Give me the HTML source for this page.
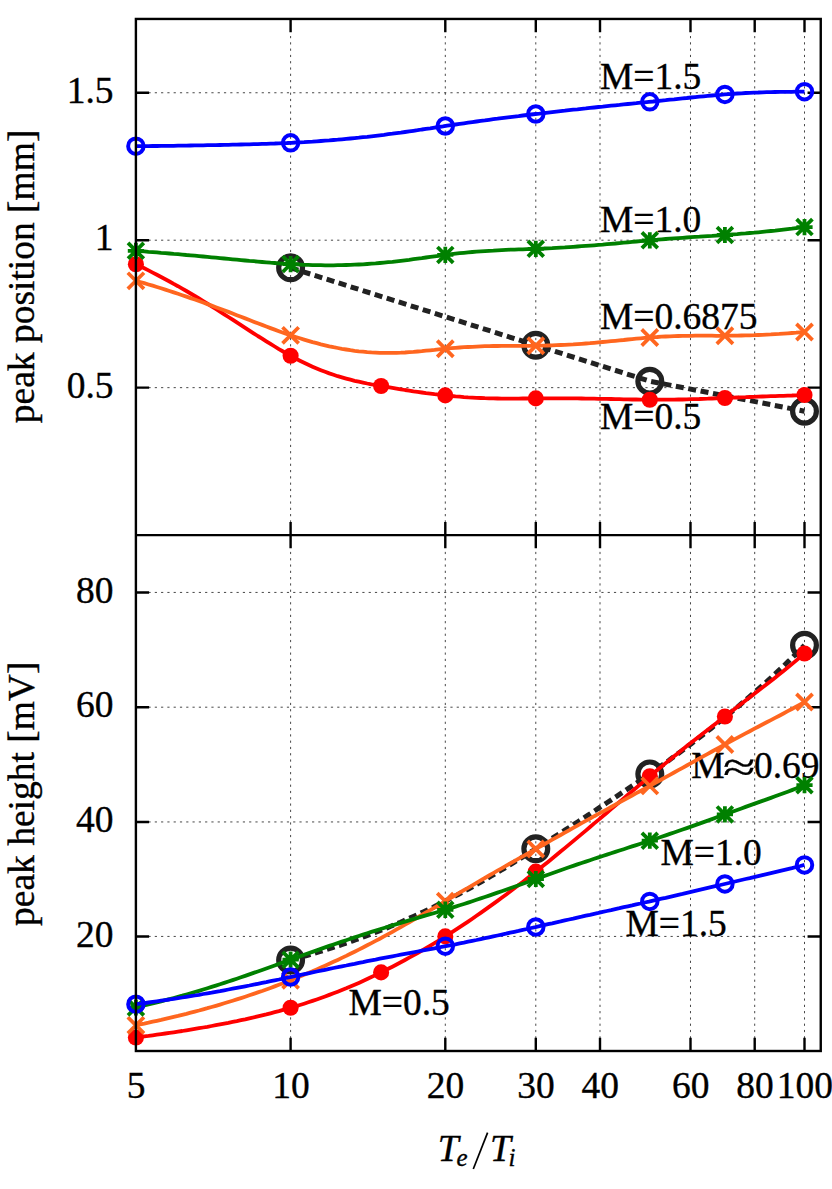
<!DOCTYPE html>
<html><head><meta charset="utf-8"><title>chart</title>
<style>
html,body{margin:0;padding:0;background:#fff;}
body{width:832px;height:1189px;overflow:hidden;}
svg{display:block;}
text{font-family:"Liberation Serif",serif;font-size:37.5px;fill:#000;stroke:#000;stroke-width:0.35px;}
</style></head><body>
<svg width="832" height="1189" viewBox="0 0 832 1189">
<rect width="832" height="1189" fill="#fff"/>

<path d="M290.60,1051.0V535.1M290.60,535.1V18.95 M445.30,1051.0V535.1M445.30,535.1V18.95 M535.79,1051.0V535.1M535.79,535.1V18.95 M600.00,1051.0V535.1M600.00,535.1V18.95 M690.49,1051.0V535.1M690.49,535.1V18.95 M754.70,1051.0V535.1M754.70,535.1V18.95 M804.50,1051.0V535.1M804.50,535.1V18.95 M135.9,92.75H820.75 M135.9,240.20H820.75 M135.9,387.65H820.75 M135.9,592.43H820.75 M135.9,707.20H820.75 M135.9,821.95H820.75 M135.9,936.43H820.75" stroke="#000" stroke-width="1.0" stroke-dasharray="2.2 4.09" fill="none" opacity="0.72"/>
<path d="M290.6,18.95v13.2M290.6,521.9v26.4M290.6,1051.0v-13.2 M445.3,18.95v13.2M445.3,521.9v26.4M445.3,1051.0v-13.2 M535.8,18.95v13.2M535.8,521.9v26.4M535.8,1051.0v-13.2 M600.0,18.95v13.2M600.0,521.9v26.4M600.0,1051.0v-13.2 M690.5,18.95v13.2M690.5,521.9v26.4M690.5,1051.0v-13.2 M754.7,18.95v13.2M754.7,521.9v26.4M754.7,1051.0v-13.2 M804.5,18.95v13.2M804.5,521.9v26.4M804.5,1051.0v-13.2 M135.9,92.75h13.2M820.75,92.75h-13.2 M135.9,240.20h13.2M820.75,240.20h-13.2 M135.9,387.65h13.2M820.75,387.65h-13.2 M135.9,592.43h13.2M820.75,592.43h-13.2 M135.9,707.20h13.2M820.75,707.20h-13.2 M135.9,821.95h13.2M820.75,821.95h-13.2 M135.9,936.43h13.2M820.75,936.43h-13.2" stroke="#000" stroke-width="2.4" fill="none"/>
<text transform="translate(600.0,88.8) scale(1,1.02)" text-anchor="start">M=1.5</text>
<text transform="translate(600.0,231.8) scale(1,1.02)" text-anchor="start">M=1.0</text>
<text transform="translate(600.0,328.8) scale(1,1.02)" text-anchor="start">M=0.6875</text>
<text transform="translate(600.0,428.8) scale(1,1.02)" text-anchor="start">M=0.5</text>
<text transform="translate(660.5,865.4) scale(1,1.02)" text-anchor="start">M=1.0</text>
<text transform="translate(625.5,936.3) scale(1,1.02)" text-anchor="start">M=1.5</text>
<text transform="translate(348.5,1015.3) scale(1,1.02)" text-anchor="start">M=0.5</text>
<text transform="translate(691.2,777.6) scale(1,1.02)" text-anchor="start">M</text>
<text transform="translate(722.9,781.3) scale(1.22,0.855)" style="font-size:48.5px">≈</text>
<text transform="translate(753.9,777.6) scale(1,1.02)" text-anchor="start">0.69</text>
<path d="M290.6,267.8 L535.8,345.3 L649.8,381.2 L804.5,411.2" stroke="#222222" stroke-width="5" stroke-dasharray="8 4.6" fill="none"/>
<circle cx="290.6" cy="267.8" r="11.9" fill="none" stroke="#222222" stroke-width="5.2"/>
<circle cx="535.8" cy="345.3" r="11.9" fill="none" stroke="#222222" stroke-width="5.2"/>
<circle cx="649.8" cy="381.2" r="11.9" fill="none" stroke="#222222" stroke-width="5.2"/>
<circle cx="804.5" cy="411.2" r="11.9" fill="none" stroke="#222222" stroke-width="5.2"/>
<path d="M135.9,264.2 L140.1,266.3 L144.3,268.3 L148.5,270.4 L152.7,272.6 L156.9,274.8 L161.1,277.0 L165.3,279.2 L169.5,281.5 L173.7,283.9 L178.0,286.2 L182.2,288.6 L186.4,291.0 L190.6,293.5 L194.8,296.0 L199.0,298.5 L203.2,301.1 L207.4,303.7 L211.6,306.3 L215.8,308.9 L220.0,311.6 L224.2,314.3 L228.4,317.0 L232.6,319.7 L236.8,322.4 L241.0,325.1 L245.2,327.8 L249.4,330.6 L253.6,333.3 L257.8,336.0 L262.1,338.6 L266.3,341.3 L270.5,343.9 L274.7,346.5 L278.9,349.1 L283.1,351.5 L287.3,353.9 L291.5,356.3 L295.7,358.5 L299.9,360.7 L304.1,362.8 L308.3,364.8 L312.5,366.7 L316.7,368.5 L320.9,370.2 L325.1,371.8 L329.3,373.4 L333.5,374.8 L337.7,376.2 L341.9,377.4 L346.2,378.6 L350.4,379.7 L354.6,380.8 L358.8,381.7 L363.0,382.6 L367.2,383.5 L371.4,384.3 L375.6,385.0 L379.8,385.8 L384.0,386.5 L388.2,387.2 L392.4,387.9 L396.6,388.6 L400.8,389.3 L405.0,390.0 L409.2,390.6 L413.4,391.3 L417.6,391.9 L421.8,392.5 L426.0,393.1 L430.3,393.6 L434.5,394.2 L438.7,394.7 L442.9,395.1 L447.1,395.6 L451.3,396.0 L455.5,396.4 L459.7,396.7 L463.9,397.1 L468.1,397.4 L472.3,397.6 L476.5,397.8 L480.7,398.0 L484.9,398.2 L489.1,398.3 L493.3,398.4 L497.5,398.5 L501.7,398.6 L505.9,398.6 L510.1,398.6 L514.4,398.6 L518.6,398.6 L522.8,398.5 L527.0,398.5 L531.2,398.4 L535.4,398.4 L539.6,398.4 L543.8,398.3 L548.0,398.3 L552.2,398.3 L556.4,398.3 L560.6,398.3 L564.8,398.3 L569.0,398.4 L573.2,398.4 L577.4,398.4 L581.6,398.5 L585.8,398.6 L590.0,398.6 L594.2,398.7 L598.5,398.8 L602.7,398.8 L606.9,398.9 L611.1,399.0 L615.3,399.1 L619.5,399.2 L623.7,399.3 L627.9,399.4 L632.1,399.5 L636.3,399.5 L640.5,399.6 L644.7,399.6 L648.9,399.7 L653.1,399.7 L657.3,399.7 L661.5,399.7 L665.7,399.7 L669.9,399.7 L674.1,399.6 L678.3,399.5 L682.6,399.5 L686.8,399.4 L691.0,399.2 L695.2,399.1 L699.4,399.0 L703.6,398.8 L707.8,398.7 L712.0,398.5 L716.2,398.4 L720.4,398.2 L724.6,398.0 L728.8,397.8 L733.0,397.7 L737.2,397.5 L741.4,397.3 L745.6,397.2 L749.8,397.0 L754.0,396.9 L758.2,396.7 L762.4,396.5 L766.7,396.4 L770.9,396.2 L775.1,396.1 L779.3,395.9 L783.5,395.8 L787.7,395.6 L791.9,395.5 L796.1,395.3 L800.3,395.2 L804.5,395.0" stroke="#ff0000" stroke-width="3.8" fill="none" stroke-linejoin="round"/>
<circle cx="135.9" cy="264.2" r="8.05" fill="#ff0000"/>
<circle cx="290.6" cy="355.8" r="8.05" fill="#ff0000"/>
<circle cx="381.1" cy="386.0" r="8.05" fill="#ff0000"/>
<circle cx="445.3" cy="395.4" r="8.05" fill="#ff0000"/>
<circle cx="535.8" cy="398.4" r="8.05" fill="#ff0000"/>
<circle cx="649.8" cy="399.7" r="8.05" fill="#ff0000"/>
<circle cx="724.9" cy="398.0" r="8.05" fill="#ff0000"/>
<circle cx="804.5" cy="395.0" r="8.05" fill="#ff0000"/>
<path d="M135.9,280.8 L140.1,282.0 L144.3,283.2 L148.5,284.5 L152.7,285.7 L156.9,287.0 L161.1,288.3 L165.3,289.6 L169.5,291.0 L173.7,292.4 L178.0,293.8 L182.2,295.2 L186.4,296.6 L190.6,298.1 L194.8,299.5 L199.0,301.0 L203.2,302.5 L207.4,304.1 L211.6,305.6 L215.8,307.2 L220.0,308.8 L224.2,310.3 L228.4,311.9 L232.6,313.6 L236.8,315.2 L241.0,316.8 L245.2,318.4 L249.4,320.0 L253.6,321.7 L257.8,323.3 L262.1,324.9 L266.3,326.5 L270.5,328.1 L274.7,329.6 L278.9,331.2 L283.1,332.7 L287.3,334.2 L291.5,335.6 L295.7,337.0 L299.9,338.3 L304.1,339.6 L308.3,340.9 L312.5,342.1 L316.7,343.2 L320.9,344.3 L325.1,345.3 L329.3,346.3 L333.5,347.2 L337.7,348.0 L341.9,348.8 L346.2,349.5 L350.4,350.2 L354.6,350.8 L358.8,351.3 L363.0,351.7 L367.2,352.1 L371.4,352.4 L375.6,352.6 L379.8,352.8 L384.0,352.9 L388.2,352.9 L392.4,352.9 L396.6,352.8 L400.8,352.7 L405.0,352.5 L409.2,352.2 L413.4,351.9 L417.6,351.5 L421.8,351.2 L426.0,350.7 L430.3,350.3 L434.5,349.9 L438.7,349.4 L442.9,349.0 L447.1,348.6 L451.3,348.2 L455.5,347.8 L459.7,347.5 L463.9,347.2 L468.1,347.0 L472.3,346.8 L476.5,346.6 L480.7,346.4 L484.9,346.2 L489.1,346.1 L493.3,346.0 L497.5,346.0 L501.7,345.9 L505.9,345.9 L510.1,345.8 L514.4,345.8 L518.6,345.8 L522.8,345.8 L527.0,345.8 L531.2,345.8 L535.4,345.8 L539.6,345.7 L543.8,345.6 L548.0,345.5 L552.2,345.4 L556.4,345.2 L560.6,345.0 L564.8,344.8 L569.0,344.6 L573.2,344.4 L577.4,344.1 L581.6,343.8 L585.8,343.5 L590.0,343.2 L594.2,342.8 L598.5,342.4 L602.7,342.0 L606.9,341.6 L611.1,341.2 L615.3,340.8 L619.5,340.4 L623.7,340.0 L627.9,339.5 L632.1,339.1 L636.3,338.7 L640.5,338.3 L644.7,337.9 L648.9,337.6 L653.1,337.2 L657.3,337.0 L661.5,336.7 L665.7,336.5 L669.9,336.3 L674.1,336.1 L678.3,336.0 L682.6,335.9 L686.8,335.8 L691.0,335.8 L695.2,335.7 L699.4,335.7 L703.6,335.7 L707.8,335.7 L712.0,335.7 L716.2,335.8 L720.4,335.8 L724.6,335.8 L728.8,335.7 L733.0,335.7 L737.2,335.6 L741.4,335.5 L745.6,335.4 L749.8,335.3 L754.0,335.2 L758.2,335.0 L762.4,334.8 L766.7,334.6 L770.9,334.4 L775.1,334.1 L779.3,333.9 L783.5,333.6 L787.7,333.3 L791.9,333.0 L796.1,332.7 L800.3,332.3 L804.5,332.0" stroke="#ff661f" stroke-width="3.8" fill="none" stroke-linejoin="round"/>
<path d="M127.8,272.7L144.0,288.9M127.8,288.9L144.0,272.7" stroke="#ff661f" stroke-width="3.7" fill="none"/>
<path d="M282.5,327.2L298.7,343.4M282.5,343.4L298.7,327.2" stroke="#ff661f" stroke-width="3.7" fill="none"/>
<path d="M437.2,340.6L453.4,356.9M437.2,356.9L453.4,340.6" stroke="#ff661f" stroke-width="3.7" fill="none"/>
<path d="M527.7,337.6L543.9,353.9M527.7,353.9L543.9,337.6" stroke="#ff661f" stroke-width="3.7" fill="none"/>
<path d="M641.7,329.4L657.9,345.6M641.7,345.6L657.9,329.4" stroke="#ff661f" stroke-width="3.7" fill="none"/>
<path d="M716.8,327.6L733.0,343.9M716.8,343.9L733.0,327.6" stroke="#ff661f" stroke-width="3.7" fill="none"/>
<path d="M796.4,323.9L812.6,340.1M796.4,340.1L812.6,323.9" stroke="#ff661f" stroke-width="3.7" fill="none"/>
<path d="M135.9,250.8 L140.1,251.1 L144.3,251.4 L148.5,251.8 L152.7,252.1 L156.9,252.4 L161.1,252.8 L165.3,253.1 L169.5,253.5 L173.7,253.9 L178.0,254.2 L182.2,254.6 L186.4,255.0 L190.6,255.3 L194.8,255.7 L199.0,256.1 L203.2,256.5 L207.4,256.9 L211.6,257.3 L215.8,257.7 L220.0,258.1 L224.2,258.5 L228.4,258.9 L232.6,259.3 L236.8,259.7 L241.0,260.1 L245.2,260.5 L249.4,260.9 L253.6,261.2 L257.8,261.6 L262.1,262.0 L266.3,262.3 L270.5,262.7 L274.7,263.0 L278.9,263.3 L283.1,263.6 L287.3,263.9 L291.5,264.2 L295.7,264.4 L299.9,264.6 L304.1,264.8 L308.3,264.9 L312.5,265.1 L316.7,265.2 L320.9,265.2 L325.1,265.3 L329.3,265.3 L333.5,265.3 L337.7,265.2 L341.9,265.2 L346.2,265.0 L350.4,264.9 L354.6,264.7 L358.8,264.5 L363.0,264.3 L367.2,264.0 L371.4,263.7 L375.6,263.4 L379.8,263.0 L384.0,262.6 L388.2,262.2 L392.4,261.8 L396.6,261.3 L400.8,260.8 L405.0,260.3 L409.2,259.8 L413.4,259.2 L417.6,258.6 L421.8,258.1 L426.0,257.5 L430.3,256.9 L434.5,256.3 L438.7,255.8 L442.9,255.2 L447.1,254.7 L451.3,254.2 L455.5,253.7 L459.7,253.2 L463.9,252.8 L468.1,252.4 L472.3,252.0 L476.5,251.7 L480.7,251.4 L484.9,251.1 L489.1,250.8 L493.3,250.6 L497.5,250.3 L501.7,250.1 L505.9,249.9 L510.1,249.7 L514.4,249.6 L518.6,249.4 L522.8,249.3 L527.0,249.1 L531.2,249.0 L535.4,248.8 L539.6,248.6 L543.8,248.5 L548.0,248.3 L552.2,248.1 L556.4,247.8 L560.6,247.6 L564.8,247.4 L569.0,247.1 L573.2,246.8 L577.4,246.5 L581.6,246.2 L585.8,245.9 L590.0,245.6 L594.2,245.3 L598.5,244.9 L602.7,244.6 L606.9,244.2 L611.1,243.8 L615.3,243.5 L619.5,243.1 L623.7,242.7 L627.9,242.3 L632.1,241.9 L636.3,241.5 L640.5,241.1 L644.7,240.8 L648.9,240.4 L653.1,240.0 L657.3,239.7 L661.5,239.3 L665.7,239.0 L669.9,238.7 L674.1,238.4 L678.3,238.1 L682.6,237.8 L686.8,237.5 L691.0,237.2 L695.2,236.9 L699.4,236.7 L703.6,236.4 L707.8,236.1 L712.0,235.9 L716.2,235.6 L720.4,235.3 L724.6,235.0 L728.8,234.7 L733.0,234.4 L737.2,234.1 L741.4,233.7 L745.6,233.4 L749.8,233.0 L754.0,232.7 L758.2,232.3 L762.4,231.9 L766.7,231.4 L770.9,231.0 L775.1,230.6 L779.3,230.1 L783.5,229.6 L787.7,229.1 L791.9,228.7 L796.1,228.1 L800.3,227.6 L804.5,227.1" stroke="#008000" stroke-width="3.8" fill="none" stroke-linejoin="round"/>
<path d="M128.0,242.9L143.8,258.7M128.0,258.7L143.8,242.9M127.8,250.8L144.0,250.8M135.9,242.7L135.9,258.9" stroke="#008000" stroke-width="3.8" fill="none"/>
<path d="M282.7,256.2L298.5,272.0M282.7,272.0L298.5,256.2M282.5,264.1L298.7,264.1M290.6,256.0L290.6,272.2" stroke="#008000" stroke-width="3.8" fill="none"/>
<path d="M437.4,247.0L453.2,262.8M437.4,262.8L453.2,247.0M437.2,254.9L453.4,254.9M445.3,246.8L445.3,263.0" stroke="#008000" stroke-width="3.8" fill="none"/>
<path d="M527.9,240.9L543.7,256.7M527.9,256.7L543.7,240.9M527.7,248.8L543.9,248.8M535.8,240.7L535.8,256.9" stroke="#008000" stroke-width="3.8" fill="none"/>
<path d="M641.9,232.4L657.7,248.2M641.9,248.2L657.7,232.4M641.7,240.3L657.9,240.3M649.8,232.2L649.8,248.4" stroke="#008000" stroke-width="3.8" fill="none"/>
<path d="M717.0,227.1L732.8,242.9M717.0,242.9L732.8,227.1M716.8,235.0L733.0,235.0M724.9,226.9L724.9,243.1" stroke="#008000" stroke-width="3.8" fill="none"/>
<path d="M796.6,219.2L812.4,235.0M796.6,235.0L812.4,219.2M796.4,227.1L812.6,227.1M804.5,219.0L804.5,235.2" stroke="#008000" stroke-width="3.8" fill="none"/>
<path d="M135.9,146.2 L140.1,146.2 L144.3,146.1 L148.5,146.1 L152.7,146.0 L156.9,146.0 L161.1,145.9 L165.3,145.9 L169.5,145.8 L173.7,145.8 L178.0,145.7 L182.2,145.6 L186.4,145.6 L190.6,145.5 L194.8,145.4 L199.0,145.4 L203.2,145.3 L207.4,145.2 L211.6,145.2 L215.8,145.1 L220.0,145.0 L224.2,144.9 L228.4,144.8 L232.6,144.7 L236.8,144.6 L241.0,144.5 L245.2,144.4 L249.4,144.3 L253.6,144.2 L257.8,144.1 L262.1,143.9 L266.3,143.8 L270.5,143.6 L274.7,143.5 L278.9,143.3 L283.1,143.1 L287.3,143.0 L291.5,142.8 L295.7,142.5 L299.9,142.3 L304.1,142.1 L308.3,141.8 L312.5,141.6 L316.7,141.3 L320.9,141.0 L325.1,140.7 L329.3,140.4 L333.5,140.0 L337.7,139.7 L341.9,139.3 L346.2,138.9 L350.4,138.5 L354.6,138.1 L358.8,137.7 L363.0,137.2 L367.2,136.8 L371.4,136.3 L375.6,135.8 L379.8,135.3 L384.0,134.8 L388.2,134.2 L392.4,133.7 L396.6,133.1 L400.8,132.6 L405.0,132.0 L409.2,131.4 L413.4,130.8 L417.6,130.2 L421.8,129.5 L426.0,128.9 L430.3,128.3 L434.5,127.6 L438.7,127.0 L442.9,126.4 L447.1,125.7 L451.3,125.1 L455.5,124.5 L459.7,123.9 L463.9,123.3 L468.1,122.7 L472.3,122.1 L476.5,121.5 L480.7,120.9 L484.9,120.4 L489.1,119.8 L493.3,119.2 L497.5,118.7 L501.7,118.1 L505.9,117.6 L510.1,117.1 L514.4,116.6 L518.6,116.1 L522.8,115.5 L527.0,115.0 L531.2,114.5 L535.4,114.0 L539.6,113.6 L543.8,113.1 L548.0,112.6 L552.2,112.1 L556.4,111.6 L560.6,111.1 L564.8,110.7 L569.0,110.2 L573.2,109.7 L577.4,109.3 L581.6,108.8 L585.8,108.4 L590.0,107.9 L594.2,107.5 L598.5,107.0 L602.7,106.6 L606.9,106.1 L611.1,105.7 L615.3,105.3 L619.5,104.9 L623.7,104.4 L627.9,104.0 L632.1,103.6 L636.3,103.2 L640.5,102.7 L644.7,102.3 L648.9,101.9 L653.1,101.5 L657.3,101.0 L661.5,100.6 L665.7,100.2 L669.9,99.7 L674.1,99.3 L678.3,98.8 L682.6,98.4 L686.8,98.0 L691.0,97.5 L695.2,97.1 L699.4,96.7 L703.6,96.3 L707.8,95.9 L712.0,95.5 L716.2,95.1 L720.4,94.8 L724.6,94.4 L728.8,94.1 L733.0,93.8 L737.2,93.5 L741.4,93.3 L745.6,93.0 L749.8,92.8 L754.0,92.6 L758.2,92.5 L762.4,92.3 L766.7,92.2 L770.9,92.1 L775.1,92.0 L779.3,91.9 L783.5,91.9 L787.7,91.8 L791.9,91.8 L796.1,91.7 L800.3,91.7 L804.5,91.7" stroke="#0000ff" stroke-width="3.8" fill="none" stroke-linejoin="round"/>
<circle cx="135.9" cy="146.2" r="7.75" fill="none" stroke="#0000ff" stroke-width="3.95"/>
<circle cx="290.6" cy="142.8" r="7.75" fill="none" stroke="#0000ff" stroke-width="3.95"/>
<circle cx="445.3" cy="126.0" r="7.75" fill="none" stroke="#0000ff" stroke-width="3.95"/>
<circle cx="535.8" cy="114.0" r="7.75" fill="none" stroke="#0000ff" stroke-width="3.95"/>
<circle cx="649.8" cy="101.8" r="7.75" fill="none" stroke="#0000ff" stroke-width="3.95"/>
<circle cx="724.9" cy="94.4" r="7.75" fill="none" stroke="#0000ff" stroke-width="3.95"/>
<circle cx="804.5" cy="91.7" r="7.75" fill="none" stroke="#0000ff" stroke-width="3.95"/>
<path d="M290.6,960.0 L293.8,959.1 L297.1,958.2 L300.3,957.3 L303.5,956.4 L306.8,955.5 L310.0,954.6 L313.2,953.6 L316.5,952.6 L319.7,951.7 L322.9,950.7 L326.2,949.7 L329.4,948.6 L332.6,947.6 L335.8,946.5 L339.1,945.5 L342.3,944.4 L345.5,943.3 L348.8,942.2 L352.0,941.1 L355.2,939.9 L358.5,938.8 L361.7,937.6 L364.9,936.4 L368.2,935.2 L371.4,934.0 L374.6,932.7 L377.9,931.5 L381.1,930.2 L384.3,928.9 L387.6,927.6 L390.8,926.2 L394.0,924.9 L397.3,923.5 L400.5,922.2 L403.7,920.8 L407.0,919.3 L410.2,917.9 L413.4,916.5 L416.7,915.0 L419.9,913.5 L423.1,912.0 L426.3,910.5 L429.6,908.9 L432.8,907.4 L436.0,905.8 L439.3,904.2 L442.5,902.6 L445.7,900.9 L449.0,899.3 L452.2,897.6 L455.4,895.9 L458.7,894.2 L461.9,892.5 L465.1,890.7 L468.4,889.0 L471.6,887.2 L474.8,885.4 L478.1,883.6 L481.3,881.8 L484.5,879.9 L487.8,878.0 L491.0,876.2 L494.2,874.3 L497.5,872.4 L500.7,870.4 L503.9,868.5 L507.1,866.5 L510.4,864.6 L513.6,862.6 L516.8,860.6 L520.1,858.6 L523.3,856.6 L526.5,854.6 L529.8,852.5 L533.0,850.5 L536.2,848.5 L539.5,846.4 L542.7,844.4 L545.9,842.3 L549.2,840.2 L552.4,838.2 L555.6,836.1 L558.9,834.0 L562.1,832.0 L565.3,829.9 L568.6,827.8 L571.8,825.7 L575.0,823.6 L578.3,821.5 L581.5,819.4 L584.7,817.3 L588.0,815.2 L591.2,813.1 L594.4,811.0 L597.6,808.9 L600.9,806.7 L604.1,804.6 L607.3,802.5 L610.6,800.4 L613.8,798.2 L617.0,796.1 L620.3,793.9 L623.5,791.8 L626.7,789.6 L630.0,787.4 L633.2,785.3 L636.4,783.1 L639.7,780.9 L642.9,778.7 L646.1,776.4 L649.4,774.2 L652.6,772.0 L655.8,769.7 L659.1,767.4 L662.3,765.1 L665.5,762.8 L668.8,760.5 L672.0,758.1 L675.2,755.7 L678.4,753.4 L681.7,751.0 L684.9,748.6 L688.1,746.1 L691.4,743.7 L694.6,741.2 L697.8,738.7 L701.1,736.3 L704.3,733.7 L707.5,731.2 L710.8,728.7 L714.0,726.1 L717.2,723.5 L720.5,720.9 L723.7,718.3 L726.9,715.7 L730.2,713.0 L733.4,710.4 L736.6,707.7 L739.9,705.0 L743.1,702.2 L746.3,699.5 L749.6,696.7 L752.8,693.9 L756.0,691.1 L759.3,688.2 L762.5,685.4 L765.7,682.5 L768.9,679.6 L772.2,676.6 L775.4,673.6 L778.6,670.6 L781.9,667.6 L785.1,664.5 L788.3,661.4 L791.6,658.2 L794.8,655.0 L798.0,651.8 L801.3,648.5 L804.5,645.2" stroke="#222222" stroke-width="5" stroke-dasharray="8 4.6" fill="none"/>
<circle cx="290.6" cy="960.0" r="11.9" fill="none" stroke="#222222" stroke-width="5.2"/>
<circle cx="535.8" cy="848.8" r="11.9" fill="none" stroke="#222222" stroke-width="5.2"/>
<circle cx="649.8" cy="773.9" r="11.9" fill="none" stroke="#222222" stroke-width="5.2"/>
<circle cx="804.5" cy="645.2" r="11.9" fill="none" stroke="#222222" stroke-width="5.2"/>
<path d="M135.9,1037.5 L140.1,1037.0 L144.3,1036.4 L148.5,1035.9 L152.7,1035.3 L156.9,1034.7 L161.1,1034.1 L165.3,1033.5 L169.5,1032.9 L173.7,1032.3 L178.0,1031.6 L182.2,1031.0 L186.4,1030.3 L190.6,1029.6 L194.8,1028.9 L199.0,1028.2 L203.2,1027.5 L207.4,1026.8 L211.6,1026.0 L215.8,1025.2 L220.0,1024.4 L224.2,1023.6 L228.4,1022.8 L232.6,1021.9 L236.8,1021.1 L241.0,1020.2 L245.2,1019.3 L249.4,1018.3 L253.6,1017.4 L257.8,1016.4 L262.1,1015.4 L266.3,1014.4 L270.5,1013.3 L274.7,1012.2 L278.9,1011.1 L283.1,1009.9 L287.3,1008.8 L291.5,1007.5 L295.7,1006.3 L299.9,1005.0 L304.1,1003.7 L308.3,1002.3 L312.5,1000.9 L316.7,999.5 L320.9,998.0 L325.1,996.5 L329.3,994.9 L333.5,993.3 L337.7,991.7 L341.9,990.0 L346.2,988.3 L350.4,986.5 L354.6,984.7 L358.8,982.9 L363.0,981.0 L367.2,979.0 L371.4,977.1 L375.6,975.1 L379.8,973.0 L384.0,971.0 L388.2,968.8 L392.4,966.7 L396.6,964.5 L400.8,962.3 L405.0,960.0 L409.2,957.7 L413.4,955.4 L417.6,953.0 L421.8,950.6 L426.0,948.1 L430.3,945.6 L434.5,943.1 L438.7,940.5 L442.9,937.9 L447.1,935.3 L451.3,932.6 L455.5,929.9 L459.7,927.2 L463.9,924.4 L468.1,921.6 L472.3,918.7 L476.5,915.8 L480.7,912.9 L484.9,909.9 L489.1,906.9 L493.3,903.9 L497.5,900.9 L501.7,897.8 L505.9,894.7 L510.1,891.5 L514.4,888.3 L518.6,885.1 L522.8,881.9 L527.0,878.6 L531.2,875.3 L535.4,872.0 L539.6,868.6 L543.8,865.3 L548.0,861.9 L552.2,858.5 L556.4,855.0 L560.6,851.6 L564.8,848.1 L569.0,844.6 L573.2,841.1 L577.4,837.6 L581.6,834.1 L585.8,830.6 L590.0,827.0 L594.2,823.4 L598.5,819.9 L602.7,816.3 L606.9,812.7 L611.1,809.1 L615.3,805.5 L619.5,802.0 L623.7,798.4 L627.9,794.8 L632.1,791.2 L636.3,787.7 L640.5,784.1 L644.7,780.6 L648.9,777.0 L653.1,773.5 L657.3,770.0 L661.5,766.6 L665.7,763.1 L669.9,759.7 L674.1,756.3 L678.3,752.9 L682.6,749.5 L686.8,746.1 L691.0,742.8 L695.2,739.5 L699.4,736.2 L703.6,732.9 L707.8,729.7 L712.0,726.4 L716.2,723.2 L720.4,720.0 L724.6,716.7 L728.8,713.5 L733.0,710.3 L737.2,707.0 L741.4,703.8 L745.6,700.6 L749.8,697.3 L754.0,694.1 L758.2,690.8 L762.4,687.6 L766.7,684.3 L770.9,681.0 L775.1,677.7 L779.3,674.3 L783.5,671.0 L787.7,667.6 L791.9,664.1 L796.1,660.6 L800.3,657.1 L804.5,653.5" stroke="#ff0000" stroke-width="3.8" fill="none" stroke-linejoin="round"/>
<circle cx="135.9" cy="1037.5" r="8.05" fill="#ff0000"/>
<circle cx="290.6" cy="1007.8" r="8.05" fill="#ff0000"/>
<circle cx="381.1" cy="972.4" r="8.05" fill="#ff0000"/>
<circle cx="445.3" cy="936.4" r="8.05" fill="#ff0000"/>
<circle cx="535.8" cy="871.6" r="8.05" fill="#ff0000"/>
<circle cx="649.8" cy="776.3" r="8.05" fill="#ff0000"/>
<circle cx="724.9" cy="716.5" r="8.05" fill="#ff0000"/>
<circle cx="804.5" cy="653.5" r="8.05" fill="#ff0000"/>
<path d="M135.9,1025.3 L140.1,1024.4 L144.3,1023.6 L148.5,1022.7 L152.7,1021.7 L156.9,1020.8 L161.1,1019.9 L165.3,1018.9 L169.5,1017.9 L173.7,1016.9 L178.0,1015.9 L182.2,1014.8 L186.4,1013.8 L190.6,1012.7 L194.8,1011.6 L199.0,1010.5 L203.2,1009.3 L207.4,1008.2 L211.6,1007.0 L215.8,1005.8 L220.0,1004.6 L224.2,1003.3 L228.4,1002.0 L232.6,1000.7 L236.8,999.4 L241.0,998.1 L245.2,996.7 L249.4,995.3 L253.6,993.9 L257.8,992.4 L262.1,991.0 L266.3,989.5 L270.5,988.0 L274.7,986.4 L278.9,984.8 L283.1,983.2 L287.3,981.6 L291.5,979.9 L295.7,978.3 L299.9,976.6 L304.1,974.8 L308.3,973.0 L312.5,971.3 L316.7,969.4 L320.9,967.6 L325.1,965.7 L329.3,963.8 L333.5,961.8 L337.7,959.9 L341.9,957.9 L346.2,955.9 L350.4,953.8 L354.6,951.7 L358.8,949.6 L363.0,947.5 L367.2,945.3 L371.4,943.1 L375.6,940.9 L379.8,938.7 L384.0,936.4 L388.2,934.1 L392.4,931.8 L396.6,929.4 L400.8,927.1 L405.0,924.7 L409.2,922.3 L413.4,919.9 L417.6,917.5 L421.8,915.0 L426.0,912.5 L430.3,910.1 L434.5,907.6 L438.7,905.1 L442.9,902.6 L447.1,900.2 L451.3,897.7 L455.5,895.2 L459.7,892.7 L463.9,890.2 L468.1,887.8 L472.3,885.3 L476.5,882.9 L480.7,880.4 L484.9,878.0 L489.1,875.5 L493.3,873.1 L497.5,870.7 L501.7,868.3 L505.9,865.9 L510.1,863.5 L514.4,861.1 L518.6,858.7 L522.8,856.3 L527.0,854.0 L531.2,851.6 L535.4,849.2 L539.6,846.9 L543.8,844.5 L548.0,842.1 L552.2,839.7 L556.4,837.4 L560.6,835.0 L564.8,832.7 L569.0,830.3 L573.2,827.9 L577.4,825.6 L581.6,823.2 L585.8,820.9 L590.0,818.6 L594.2,816.2 L598.5,813.9 L602.7,811.6 L606.9,809.3 L611.1,807.0 L615.3,804.7 L619.5,802.4 L623.7,800.1 L627.9,797.8 L632.1,795.5 L636.3,793.2 L640.5,791.0 L644.7,788.7 L648.9,786.4 L653.1,784.1 L657.3,781.8 L661.5,779.5 L665.7,777.1 L669.9,774.8 L674.1,772.5 L678.3,770.2 L682.6,767.8 L686.8,765.5 L691.0,763.2 L695.2,760.8 L699.4,758.5 L703.6,756.2 L707.8,753.9 L712.0,751.5 L716.2,749.2 L720.4,746.9 L724.6,744.7 L728.8,742.4 L733.0,740.1 L737.2,737.9 L741.4,735.6 L745.6,733.4 L749.8,731.2 L754.0,728.9 L758.2,726.7 L762.4,724.5 L766.7,722.3 L770.9,720.1 L775.1,717.9 L779.3,715.7 L783.5,713.5 L787.7,711.2 L791.9,709.0 L796.1,706.7 L800.3,704.4 L804.5,702.0" stroke="#ff661f" stroke-width="3.8" fill="none" stroke-linejoin="round"/>
<path d="M127.8,1017.2L144.0,1033.4M127.8,1033.4L144.0,1017.2" stroke="#ff661f" stroke-width="3.7" fill="none"/>
<path d="M282.5,972.2L298.7,988.4M282.5,988.4L298.7,972.2" stroke="#ff661f" stroke-width="3.7" fill="none"/>
<path d="M437.2,893.1L453.4,909.3M437.2,909.3L453.4,893.1" stroke="#ff661f" stroke-width="3.7" fill="none"/>
<path d="M527.7,840.9L543.9,857.1M527.7,857.1L543.9,840.9" stroke="#ff661f" stroke-width="3.7" fill="none"/>
<path d="M641.7,777.8L657.9,794.0M641.7,794.0L657.9,777.8" stroke="#ff661f" stroke-width="3.7" fill="none"/>
<path d="M716.8,736.4L733.0,752.6M716.8,752.6L733.0,736.4" stroke="#ff661f" stroke-width="3.7" fill="none"/>
<path d="M796.4,693.9L812.6,710.1M796.4,710.1L812.6,693.9" stroke="#ff661f" stroke-width="3.7" fill="none"/>
<path d="M135.9,1007.5 L140.1,1006.5 L144.3,1005.5 L148.5,1004.5 L152.7,1003.5 L156.9,1002.4 L161.1,1001.3 L165.3,1000.2 L169.5,999.1 L173.7,998.0 L178.0,996.8 L182.2,995.7 L186.4,994.5 L190.6,993.3 L194.8,992.0 L199.0,990.8 L203.2,989.5 L207.4,988.2 L211.6,986.9 L215.8,985.6 L220.0,984.3 L224.2,982.9 L228.4,981.5 L232.6,980.1 L236.8,978.7 L241.0,977.3 L245.2,975.9 L249.4,974.4 L253.6,972.9 L257.8,971.5 L262.1,970.0 L266.3,968.5 L270.5,967.0 L274.7,965.5 L278.9,963.9 L283.1,962.4 L287.3,960.9 L291.5,959.4 L295.7,957.9 L299.9,956.4 L304.1,954.8 L308.3,953.3 L312.5,951.9 L316.7,950.4 L320.9,948.9 L325.1,947.4 L329.3,945.9 L333.5,944.5 L337.7,943.1 L341.9,941.6 L346.2,940.2 L350.4,938.8 L354.6,937.4 L358.8,936.0 L363.0,934.6 L367.2,933.3 L371.4,931.9 L375.6,930.6 L379.8,929.3 L384.0,928.0 L388.2,926.7 L392.4,925.4 L396.6,924.1 L400.8,922.9 L405.0,921.6 L409.2,920.4 L413.4,919.1 L417.6,917.9 L421.8,916.7 L426.0,915.4 L430.3,914.2 L434.5,913.0 L438.7,911.7 L442.9,910.5 L447.1,909.2 L451.3,907.9 L455.5,906.6 L459.7,905.3 L463.9,904.0 L468.1,902.6 L472.3,901.2 L476.5,899.8 L480.7,898.4 L484.9,897.0 L489.1,895.6 L493.3,894.1 L497.5,892.6 L501.7,891.2 L505.9,889.7 L510.1,888.2 L514.4,886.7 L518.6,885.2 L522.8,883.7 L527.0,882.2 L531.2,880.7 L535.4,879.1 L539.6,877.6 L543.8,876.1 L548.0,874.7 L552.2,873.2 L556.4,871.7 L560.6,870.2 L564.8,868.8 L569.0,867.3 L573.2,865.9 L577.4,864.4 L581.6,863.0 L585.8,861.6 L590.0,860.2 L594.2,858.8 L598.5,857.4 L602.7,856.0 L606.9,854.6 L611.1,853.2 L615.3,851.9 L619.5,850.5 L623.7,849.2 L627.9,847.8 L632.1,846.4 L636.3,845.1 L640.5,843.7 L644.7,842.4 L648.9,841.0 L653.1,839.6 L657.3,838.2 L661.5,836.8 L665.7,835.4 L669.9,833.9 L674.1,832.5 L678.3,831.0 L682.6,829.5 L686.8,828.1 L691.0,826.6 L695.2,825.1 L699.4,823.6 L703.6,822.1 L707.8,820.6 L712.0,819.1 L716.2,817.5 L720.4,816.0 L724.6,814.5 L728.8,813.0 L733.0,811.5 L737.2,810.0 L741.4,808.5 L745.6,806.9 L749.8,805.4 L754.0,803.9 L758.2,802.4 L762.4,800.9 L766.7,799.4 L770.9,797.9 L775.1,796.3 L779.3,794.8 L783.5,793.2 L787.7,791.7 L791.9,790.1 L796.1,788.5 L800.3,786.9 L804.5,785.2" stroke="#008000" stroke-width="3.8" fill="none" stroke-linejoin="round"/>
<path d="M128.0,999.6L143.8,1015.4M128.0,1015.4L143.8,999.6M127.8,1007.5L144.0,1007.5M135.9,999.4L135.9,1015.6" stroke="#008000" stroke-width="3.8" fill="none"/>
<path d="M282.7,951.8L298.5,967.6M282.7,967.6L298.5,951.8M282.5,959.7L298.7,959.7M290.6,951.6L290.6,967.8" stroke="#008000" stroke-width="3.8" fill="none"/>
<path d="M437.4,901.9L453.2,917.6M437.4,917.6L453.2,901.9M437.2,909.8L453.4,909.8M445.3,901.6L445.3,917.9" stroke="#008000" stroke-width="3.8" fill="none"/>
<path d="M527.9,871.1L543.7,886.9M527.9,886.9L543.7,871.1M527.7,879.0L543.9,879.0M535.8,870.9L535.8,887.1" stroke="#008000" stroke-width="3.8" fill="none"/>
<path d="M641.9,832.8L657.7,848.6M641.9,848.6L657.7,832.8M641.7,840.7L657.9,840.7M649.8,832.6L649.8,848.8" stroke="#008000" stroke-width="3.8" fill="none"/>
<path d="M717.0,806.5L732.8,822.3M717.0,822.3L732.8,806.5M716.8,814.4L733.0,814.4M724.9,806.3L724.9,822.5" stroke="#008000" stroke-width="3.8" fill="none"/>
<path d="M796.6,777.3L812.4,793.1M796.6,793.1L812.4,777.3M796.4,785.2L812.6,785.2M804.5,777.1L804.5,793.3" stroke="#008000" stroke-width="3.8" fill="none"/>
<path d="M135.9,1004.2 L140.1,1003.6 L144.3,1003.1 L148.5,1002.5 L152.7,1001.9 L156.9,1001.3 L161.1,1000.7 L165.3,1000.1 L169.5,999.5 L173.7,998.8 L178.0,998.2 L182.2,997.5 L186.4,996.8 L190.6,996.2 L194.8,995.5 L199.0,994.8 L203.2,994.0 L207.4,993.3 L211.6,992.6 L215.8,991.8 L220.0,991.1 L224.2,990.3 L228.4,989.5 L232.6,988.7 L236.8,987.9 L241.0,987.1 L245.2,986.3 L249.4,985.5 L253.6,984.6 L257.8,983.8 L262.1,982.9 L266.3,982.1 L270.5,981.2 L274.7,980.3 L278.9,979.5 L283.1,978.6 L287.3,977.7 L291.5,976.8 L295.7,975.9 L299.9,975.1 L304.1,974.2 L308.3,973.3 L312.5,972.4 L316.7,971.5 L320.9,970.7 L325.1,969.8 L329.3,968.9 L333.5,968.0 L337.7,967.2 L341.9,966.3 L346.2,965.5 L350.4,964.6 L354.6,963.8 L358.8,962.9 L363.0,962.1 L367.2,961.2 L371.4,960.4 L375.6,959.6 L379.8,958.7 L384.0,957.9 L388.2,957.1 L392.4,956.3 L396.6,955.5 L400.8,954.7 L405.0,953.9 L409.2,953.1 L413.4,952.3 L417.6,951.5 L421.8,950.7 L426.0,949.9 L430.3,949.1 L434.5,948.3 L438.7,947.5 L442.9,946.7 L447.1,945.9 L451.3,945.1 L455.5,944.3 L459.7,943.4 L463.9,942.6 L468.1,941.7 L472.3,940.8 L476.5,940.0 L480.7,939.1 L484.9,938.2 L489.1,937.3 L493.3,936.4 L497.5,935.5 L501.7,934.6 L505.9,933.7 L510.1,932.7 L514.4,931.8 L518.6,930.9 L522.8,929.9 L527.0,929.0 L531.2,928.0 L535.4,927.1 L539.6,926.1 L543.8,925.2 L548.0,924.2 L552.2,923.3 L556.4,922.3 L560.6,921.4 L564.8,920.4 L569.0,919.5 L573.2,918.6 L577.4,917.6 L581.6,916.7 L585.8,915.7 L590.0,914.8 L594.2,913.8 L598.5,912.9 L602.7,911.9 L606.9,911.0 L611.1,910.1 L615.3,909.1 L619.5,908.2 L623.7,907.2 L627.9,906.3 L632.1,905.4 L636.3,904.4 L640.5,903.5 L644.7,902.5 L648.9,901.6 L653.1,900.6 L657.3,899.7 L661.5,898.7 L665.7,897.8 L669.9,896.8 L674.1,895.8 L678.3,894.8 L682.6,893.9 L686.8,892.9 L691.0,891.9 L695.2,890.9 L699.4,889.9 L703.6,888.9 L707.8,887.9 L712.0,886.9 L716.2,885.9 L720.4,885.0 L724.6,884.0 L728.8,883.0 L733.0,882.0 L737.2,881.0 L741.4,880.0 L745.6,879.0 L749.8,878.1 L754.0,877.1 L758.2,876.1 L762.4,875.1 L766.7,874.1 L770.9,873.1 L775.1,872.1 L779.3,871.1 L783.5,870.1 L787.7,869.1 L791.9,868.1 L796.1,867.0 L800.3,866.0 L804.5,864.9" stroke="#0000ff" stroke-width="3.8" fill="none" stroke-linejoin="round"/>
<circle cx="135.9" cy="1004.2" r="7.75" fill="none" stroke="#0000ff" stroke-width="3.95"/>
<circle cx="290.6" cy="977.0" r="7.75" fill="none" stroke="#0000ff" stroke-width="3.95"/>
<circle cx="445.3" cy="946.2" r="7.75" fill="none" stroke="#0000ff" stroke-width="3.95"/>
<circle cx="535.8" cy="927.0" r="7.75" fill="none" stroke="#0000ff" stroke-width="3.95"/>
<circle cx="649.8" cy="901.4" r="7.75" fill="none" stroke="#0000ff" stroke-width="3.95"/>
<circle cx="724.9" cy="883.9" r="7.75" fill="none" stroke="#0000ff" stroke-width="3.95"/>
<circle cx="804.5" cy="864.9" r="7.75" fill="none" stroke="#0000ff" stroke-width="3.95"/>
<rect x="135.9" y="18.95" width="684.85" height="1032.05" stroke="#000" stroke-width="2.4" fill="none"/>
<path d="M135.9,535.1H820.75" stroke="#000" stroke-width="2.4" fill="none"/>
<text transform="translate(113.6,102.8) scale(1,1.02)" text-anchor="end">1.5</text>
<text transform="translate(113.6,250.3) scale(1,1.02)" text-anchor="end">1</text>
<text transform="translate(113.6,397.8) scale(1,1.02)" text-anchor="end">0.5</text>
<text transform="translate(113.6,602.5) scale(1,1.02)" text-anchor="end">80</text>
<text transform="translate(113.6,717.3) scale(1,1.02)" text-anchor="end">60</text>
<text transform="translate(113.6,832.1) scale(1,1.02)" text-anchor="end">40</text>
<text transform="translate(113.6,946.5) scale(1,1.02)" text-anchor="end">20</text>
<text transform="translate(136.2,1098.0) scale(1,1.02)" text-anchor="middle">5</text>
<text transform="translate(290.9,1098.0) scale(1,1.02)" text-anchor="middle">10</text>
<text transform="translate(445.6,1098.0) scale(1,1.02)" text-anchor="middle">20</text>
<text transform="translate(536.1,1098.0) scale(1,1.02)" text-anchor="middle">30</text>
<text transform="translate(600.3,1098.0) scale(1,1.02)" text-anchor="middle">40</text>
<text transform="translate(690.8,1098.0) scale(1,1.02)" text-anchor="middle">60</text>
<text transform="translate(755.0,1098.0) scale(1,1.02)" text-anchor="middle">80</text>
<text transform="translate(804.8,1098.0) scale(1,1.02)" text-anchor="middle">100</text>
<text transform="translate(33.5,276.4) rotate(-90) scale(1,1.02)" text-anchor="middle">peak position [mm]</text>
<text transform="translate(33.5,793.8) rotate(-90) scale(1,1.02)" text-anchor="middle">peak height [mV]</text>
<text transform="translate(437.8,1161.0) scale(1,1.02)" text-anchor="start" font-style="italic">T</text>
<text transform="translate(456.6,1165.5) scale(1,1.02)" text-anchor="start" style="font-style:italic;font-size:25px">e</text>
<path d="M473.3,1169.0L487.6,1132.6" stroke="#000" stroke-width="1.7" fill="none"/>
<text transform="translate(490.1,1161.0) scale(1,1.02)" text-anchor="start" font-style="italic">T</text>
<text transform="translate(508.5,1165.5) scale(1,1.02)" text-anchor="start" style="font-style:italic;font-size:25px">i</text>
</svg></body></html>
